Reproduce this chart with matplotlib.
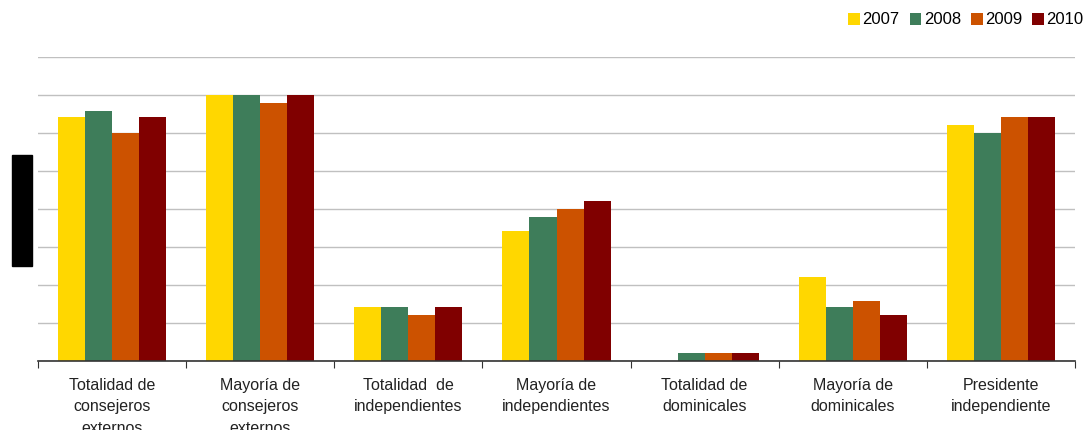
import matplotlib.pyplot as plt
import numpy as np
from matplotlib.patches import Rectangle

plt.rcParams['font.family'] = ['Liberation Sans', 'DejaVu Sans']

categories = ['Totalidad de\nconsejeros\nexternos', 'Mayoría de\nconsejeros\nexternos',
              'Totalidad  de\nindependientes', 'Mayoría de\nindependientes',
              'Totalidad de\ndominicales', 'Mayoría de\ndominicales',
              'Presidente\nindependiente']
years = ['2007', '2008', '2009', '2010']
v2007 = [64.2, 70.0, 14.2, 34.2, 0.0, 22.1, 62.1]
v2008 = [65.8, 70.0, 14.2, 37.9, 2.1, 14.2, 60.0]
v2009 = [60.0, 67.9, 12.1, 40.0, 2.1, 15.8, 64.2]
v2010 = [64.2, 70.0, 14.2, 42.1, 2.1, 12.1, 64.2]
colors = ['#FFD700', '#3E7D5A', '#CC5200', '#800000']

fig = plt.figure(figsize=(10.85, 4.3), dpi=100)
ax = fig.add_axes([38 / 1085, 69 / 430, 1037 / 1085, 304 / 430])

x = np.arange(len(categories))
w = 0.1825
for i, (vals, col, yr) in enumerate(zip([v2007, v2008, v2009, v2010], colors, years)):
    ax.bar(x + (i - 1.5) * w, vals, width=w, color=col, label=yr, zorder=2)

ax.set_xlim(-0.5, len(categories) - 0.5)
ax.set_ylim(0, 80)
ax.set_yticks(np.arange(0, 81, 10))
ax.yaxis.grid(True, color='#C0C0C0', linewidth=1, zorder=0)
ax.tick_params(axis='y', length=0, labelleft=False)

ax.set_xticks(np.arange(-0.5, len(categories), 1))
ax.set_xticklabels([])
ax.tick_params(axis='x', which='major', direction='out', length=5, color='#333333')
ax.set_xticks(x, minor=True)
ax.set_xticklabels(categories, minor=True, fontsize=11.5, linespacing=1.55, color='#222222')
ax.tick_params(axis='x', which='minor', length=0, pad=12)

for s in ['top', 'right', 'left']:
    ax.spines[s].set_visible(False)
ax.spines['bottom'].set_color('#333333')
ax.spines['bottom'].set_linewidth(1.2)

ax.legend(loc='center right', bbox_to_anchor=(1092 / 1085, 410 / 430), bbox_transform=fig.transFigure,
          ncol=4, frameon=False, fontsize=12, handlelength=0.7, handleheight=0.7,
          handletextpad=0.15, columnspacing=0.6, borderpad=0)

fig.patches.append(Rectangle((12 / 1085, 164 / 430), 20 / 1085, 111 / 430,
                             transform=fig.transFigure, color='black', zorder=5))

fig.savefig('out.png', dpi=100)
